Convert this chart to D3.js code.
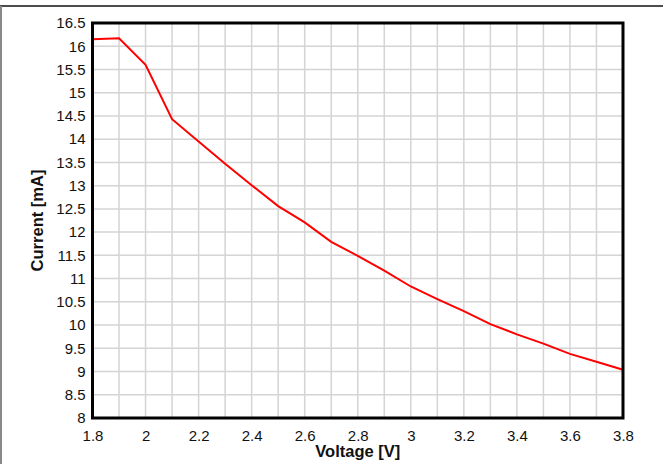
<!DOCTYPE html>
<html><head><meta charset="utf-8">
<script src="https://cdn.jsdelivr.net/npm/d3@7/dist/d3.min.js"></script>
<style>body{margin:0;background:#fff}svg{display:block}text{font-family:"Liberation Sans",Arial,sans-serif}</style>
</head><body>
<script>
const voltage = [1.8,1.9,2.0,2.1,2.2,2.3,2.4,2.5,2.6,2.7,2.8,2.9,3.0,3.1,3.2,3.3,3.4,3.5,3.6,3.7,3.8];
const current = [16.15,16.17,15.60,14.43,13.95,13.47,13.01,12.56,12.21,11.79,11.49,11.17,10.83,10.56,10.30,10.02,9.80,9.60,9.38,9.21,9.04];
const xTicks = [1.8,2,2.2,2.4,2.6,2.8,3,3.2,3.4,3.6,3.8];
const xGrid = d3.range(18,39).map(d=>d/10);
const yTicks = d3.range(16,34).map(d=>d/2);
const xLabel = "Voltage [V]";
const yLabel = "Current [mA]";

const W=663,H=464, L=92.5,R=623,T=23,B=418;
const svg=d3.select("body").append("svg").attr("width",W).attr("height",H);
const x=d3.scaleLinear().domain([1.8,3.8]).range([L,R]);
const y=d3.scaleLinear().domain([8,16.5]).range([B,T]);

// outer frame pieces
svg.append("line").attr("x1",0).attr("x2",W).attr("y1",6).attr("y2",6).attr("stroke","#111").attr("stroke-width",1.5);
svg.append("line").attr("x1",1).attr("x2",1).attr("y1",6).attr("y2",H).attr("stroke","#888").attr("stroke-width",2);

// grid
svg.append("g").selectAll("line").data(xGrid).join("line")
  .attr("x1",d=>x(d)).attr("x2",d=>x(d)).attr("y1",T).attr("y2",B)
  .attr("stroke","#d4d4d4").attr("stroke-width",1.5);
svg.append("g").selectAll("line").data(yTicks).join("line")
  .attr("x1",L).attr("x2",R).attr("y1",d=>y(d)).attr("y2",d=>y(d))
  .attr("stroke","#d4d4d4").attr("stroke-width",1.5);

// axes labels via d3 axes
const fmt=d=>String(+d.toFixed(2));
const xa=svg.append("g").attr("transform",`translate(0,${B})`)
  .call(d3.axisBottom(x).tickValues(xTicks).tickFormat(fmt).tickSize(0).tickPadding(12));
const ya=svg.append("g").attr("transform",`translate(${L},0)`)
  .call(d3.axisLeft(y).tickValues(yTicks).tickFormat(fmt).tickSize(0).tickPadding(7));
[xa,ya].forEach(g=>{g.select(".domain").remove();g.selectAll("text").attr("font-size",15).attr("fill","#111").style("font-family","'Liberation Sans',Arial,sans-serif");});

// line
svg.append("path").datum(voltage.map((v,i)=>[v,current[i]]))
  .attr("fill","none").attr("stroke","#ff0000").attr("stroke-width",2)
  .attr("d",d3.line().x(d=>x(d[0])).y(d=>y(d[1])));

// frame
svg.append("rect").attr("x",L).attr("y",T).attr("width",R-L).attr("height",B-T)
  .attr("fill","none").attr("stroke","#000").attr("stroke-width",3);

svg.append("text").attr("x",(L+R)/2).attr("y",457).attr("text-anchor","middle")
  .attr("font-size",16.5).attr("font-weight","bold").attr("fill","#111").text(xLabel);
svg.append("text").attr("transform",`translate(43,${(T+B)/2}) rotate(-90)`).attr("text-anchor","middle")
  .attr("font-size",16.5).attr("font-weight","bold").attr("fill","#111").text(yLabel);
</script>
</body></html>
